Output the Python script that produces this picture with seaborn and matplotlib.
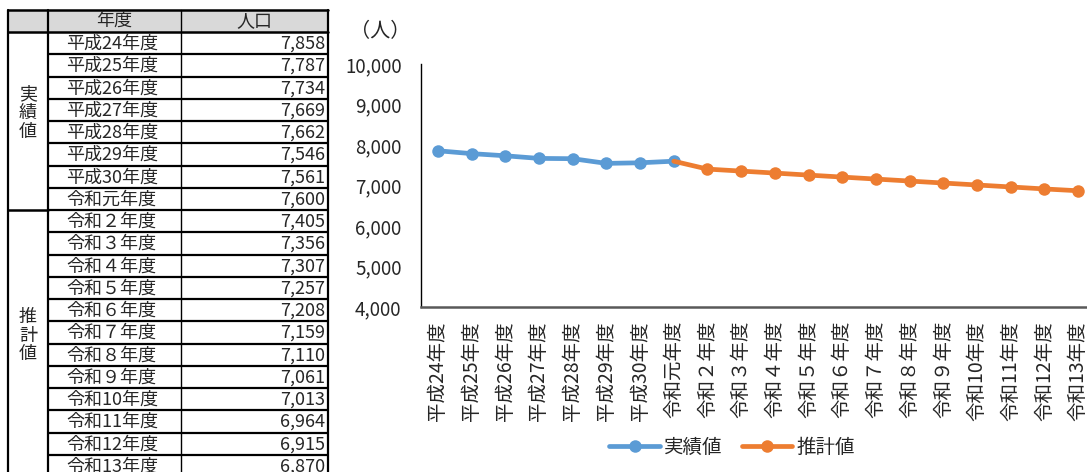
import numpy as np
import pandas as pd
import matplotlib
matplotlib.use("Agg")
import matplotlib.pyplot as plt
import seaborn as sns
from matplotlib.lines import Line2D
from matplotlib.ticker import FuncFormatter

# data
years = ["平成24年度", "平成25年度", "平成26年度", "平成27年度", "平成28年度",
         "平成29年度", "平成30年度", "令和元年度", "令和２年度", "令和３年度",
         "令和４年度", "令和５年度", "令和６年度", "令和７年度", "令和８年度",
         "令和９年度", "令和10年度", "令和11年度", "令和12年度", "令和13年度"]
actual = [7858, 7787, 7734, 7669, 7662, 7546, 7561, 7600]
forecast = [7405, 7356, 7307, 7257, 7208, 7159, 7110, 7061, 7013, 6964, 6915, 6870]
group_labels = ["実績値", "推計値"]

BLUE = "#5B9BD5"
ORANGE = "#ED7D31"

sns.set_style("white")
plt.rcParams["font.family"] = ["Noto Sans CJK JP", "DejaVu Sans"]

W, H = 1087, 472
fig = plt.figure(figsize=(W / 100, H / 100), dpi=100)

# ---------------- table (pixel coordinates) ----------------
tab = fig.add_axes([0, 0, 1, 1])
tab.set_xlim(0, W)
tab.set_ylim(H, 0)
tab.axis("off")

x0, x1, x2, x3 = 8, 48, 181, 328
top, head_bot, row_h = 9.5, 32, 22.25
populations = actual + forecast
n = len(years)
bottom = head_bot + n * row_h
fs_tab = 13

tab.fill_between([x0, x3], top, head_bot, color="#D9D9D9", lw=0)
tab.text((x1 + x2) / 2, head_bot - 2, "年度", ha="center", va="bottom", fontsize=fs_tab)
tab.text((x2 + x3) / 2, head_bot - 2, "人口", ha="center", va="bottom", fontsize=fs_tab)

for i, (yr, pop) in enumerate(zip(years, populations)):
    yb = head_bot + (i + 1) * row_h
    tab.text(x1 + 18, yb - 1.5, yr, ha="left", va="bottom", fontsize=fs_tab)
    tab.text(x3 - 3, yb - 1.5, f"{pop:,}", ha="right", va="bottom", fontsize=fs_tab)
    tab.plot([x1, x3], [yb, yb], color="black", lw=1.6, solid_capstyle="butt")

n_act = len(actual)
sep = head_bot + n_act * row_h
tab.plot([x0, x3], [top, top], color="black", lw=1.8)
tab.plot([x0, x3], [head_bot, head_bot], color="black", lw=1.8)
tab.plot([x0, x1], [sep, sep], color="black", lw=1.8)
for xv in [x0, x1, x3]:
    tab.plot([xv, xv], [top, bottom], color="black", lw=1.6)
tab.plot([x2, x2], [top, bottom], color="black", lw=1.0)

mid_act = head_bot + n_act * row_h / 2
mid_fc = sep + len(forecast) * row_h / 2
tab.text((x0 + x1) / 2, mid_act - 8, "\n".join(group_labels[0]), ha="center",
         va="center", fontsize=fs_tab, linespacing=1.05)
tab.text((x0 + x1) / 2, mid_fc - 8, "\n".join(group_labels[1]), ha="center",
         va="center", fontsize=fs_tab, linespacing=1.05)

# ---------------- line chart ----------------
ax_left, ax_top, ax_bot = 421, 64, 307
step = 33.7
ax = fig.add_axes([ax_left / W, 1 - ax_bot / H, n * step / W, (ax_bot - ax_top) / H])

df_act = pd.DataFrame({"x": np.arange(n_act), "pop": actual})
df_fc = pd.DataFrame({"x": np.arange(n_act - 1, n),
                      "pop": [actual[-1]] + forecast})

sns.lineplot(data=df_act, x="x", y="pop", ax=ax, color=BLUE, lw=3.4,
             marker="o", markersize=9, markeredgewidth=0)
sns.lineplot(data=df_fc, x="x", y="pop", ax=ax, color=ORANGE, lw=3.4,
             marker="o", markersize=9, markeredgewidth=0,
             markevery=list(range(1, len(df_fc))))

ax.set_xlim(-0.5, n - 0.5)
ax.set_ylim(4000, 10000)
ax.set_yticks(range(4000, 10001, 1000))
ax.yaxis.set_major_formatter(FuncFormatter(lambda v, p: f"{int(v):,}"))
ax.set_xticks(range(n))
ax.set_xticklabels(years, rotation=90, fontsize=14)
ax.tick_params(axis="y", labelsize=13.5, length=0, pad=14)
ax.tick_params(axis="x", length=0, pad=10)
ax.set_xlabel("")
ax.set_ylabel("")
for s in ["top", "right"]:
    ax.spines[s].set_visible(False)
ax.spines["left"].set_color("black")
ax.spines["left"].set_linewidth(1.0)
ax.spines["bottom"].set_color("#595959")
ax.spines["bottom"].set_linewidth(1.8)

fig.text(350 / W, 1 - 32 / H, "（人）", fontsize=14.5, ha="left", va="center")

handles = [Line2D([0], [0], color=BLUE, lw=3.4, marker="o", markersize=9,
                  markeredgewidth=0),
           Line2D([0], [0], color=ORANGE, lw=3.4, marker="o", markersize=9,
                  markeredgewidth=0)]
fig.legend(handles, group_labels, loc="center", bbox_to_anchor=(732 / W, 1 - 447 / H),
           ncol=2, frameon=False, fontsize=14, handlelength=2.6,
           handletextpad=0.2, columnspacing=1.0)

fig.savefig("out.png", dpi=100)
